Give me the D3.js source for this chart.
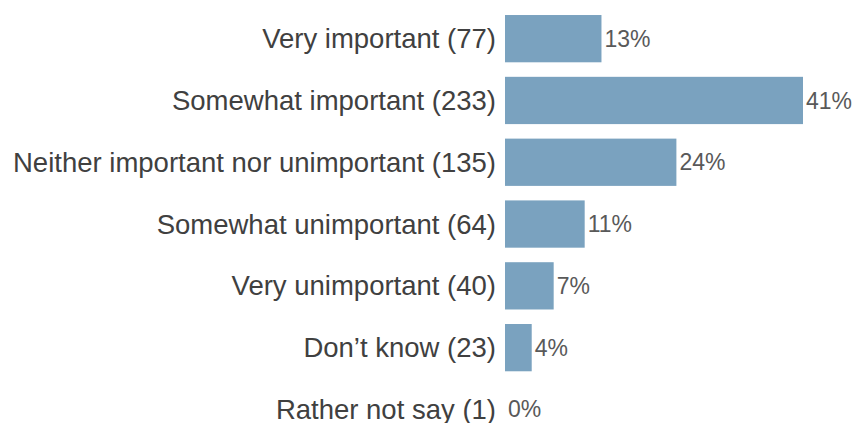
<!DOCTYPE html>
<html>
<head>
<meta charset="utf-8">
<script src="https://cdn.jsdelivr.net/npm/d3@7"></script>
<style>
  body { margin: 0; background: #fff; }
  svg { display: block; font-family: "Liberation Sans", Arial, sans-serif; }
  .label { fill: #404040; font-size: 27.5px; }
  .value { fill: #595959; font-size: 23px; }
  .bar { fill: #7aa2bf; }
</style>
</head>
<body>
<div id="chart"></div>
<script>
var width = 857, height = 423;

// data
var categories = ["Very important", "Somewhat important", "Neither important nor unimportant",
  "Somewhat unimportant", "Very unimportant", "Don\u2019t know", "Rather not say"];
var counts = [77, 233, 135, 64, 40, 23, 1];
var percents = ["13%", "41%", "24%", "11%", "7%", "4%", "0%"];

var svg = d3.select("#chart").append("svg")
  .attr("width", width)
  .attr("height", height);

var x = d3.scaleLinear()
  .domain([0, 233])
  .range([502, 803]);

var y = d3.scaleBand()
  .domain(d3.range(categories.length))
  .range([0.5, 447.6])
  .padding(0.235);

var barStart = x(0) + 3;

var rows = svg.selectAll(".row")
  .data(counts)
  .enter().append("g")
    .attr("class", "row");

rows.append("rect")
  .attr("class", "bar")
  .attr("x", barStart)
  .attr("y", function(d, i) { return y(i); })
  .attr("width", function(d) { return Math.max(0, x(d) - barStart); })
  .attr("height", y.bandwidth());

rows.append("text")
  .attr("class", "label")
  .attr("x", 496)
  .attr("y", function(d, i) { return y(i) + y.bandwidth() / 2; })
  .attr("dy", "0.35em")
  .attr("text-anchor", "end")
  .text(function(d, i) { return categories[i] + " (" + d + ")"; });

rows.append("text")
  .attr("class", "value")
  .attr("x", function(d) { return Math.max(barStart, x(d)) + 3; })
  .attr("y", function(d, i) { return y(i) + y.bandwidth() / 2; })
  .attr("dy", "0.35em")
  .text(function(d, i) { return percents[i]; });
</script>
</body>
</html>
